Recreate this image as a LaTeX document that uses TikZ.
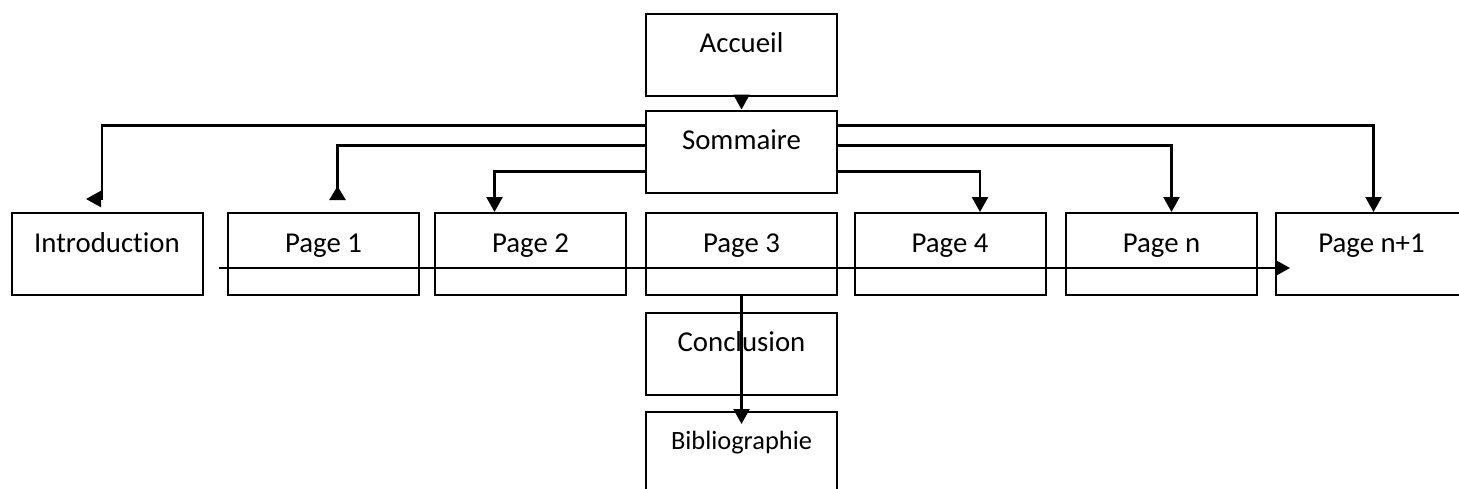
\documentclass[tikz,border=0pt]{standalone}
\usepackage{fontspec}
\setmainfont{Carlito}[Ligatures=NoCommon]
\usetikzlibrary{arrows.meta}
\tikzset{
  page/.style={draw, line width=1pt, minimum width=95.5pt, inner sep=0pt,
    text height=19.5pt, text depth=21.5pt, font=\fontsize{14.4pt}{17pt}\selectfont},
  link/.style={line width=1.2pt, -{Triangle[length=7.5pt,width=8pt]}},
  backlink/.style={line width=1.2pt, -{Triangle[reversed,length=7pt,width=8pt]}}
}
\begin{document}
\begin{tikzpicture}[x=0.5pt, y=-0.5pt]
    \useasboundingbox (0,0) rectangle (1459,488);
    % Nodes
    \node[page] (Accueil) at (741.5,54.5) {Accueil};
    \node[page] (Sommaire) at (741.5,151.5) {Sommaire};
    \node[page] (Intro) at (107,254) {Introduction};
    \node[page] (PageOne) at (323.5,254) {Page 1};
    \node[page] (PageTwo) at (530.5,254) {Page 2};
    \node[page] (PageThree) at (741.5,254) {Page 3};
    \node[page] (PageFour) at (950,254) {Page 4};
    \node[page] (PageN) at (1161.5,254) {Page n};
    \node[page] (PageNPlus) at (1371.5,254) {Page n+1};
    \node[page] (Conclusion) at (741.5,353.5) {Conclusion};
    \node[page, text height=18.5pt, text depth=22.5pt,
      font=\fontsize{13.2pt}{16pt}\selectfont] (Biblio) at (741.5,453) {Bibliographie};

    % Arrows
    \draw[link] (Accueil) -- (Sommaire);
    \draw[link] ([yshift=-8pt]Sommaire.north west) -| ([shift={(-2.5pt,6.5pt)}]Intro.north) -- ++(-16,0);
    \draw[backlink] ([yshift=-18pt]Sommaire.north west) -| ([shift={(7pt,6pt)}]PageOne.north);
    \draw[link] ([yshift=-31pt]Sommaire.north west) -| ([xshift=-18pt]PageTwo.north);
    \draw[link] ([yshift=-31pt]Sommaire.north east) -| ([xshift=15pt]PageFour.north);
    \draw[link] ([yshift=-18pt]Sommaire.north east) -| ([xshift=5pt]PageN.north);
    \draw[link] ([yshift=-8pt]Sommaire.north east) -| ([xshift=1pt]PageNPlus.north);
    \draw[link] ([shift={(7.5pt,-7pt)}]Intro.east) -- ([shift={(7.5pt,-7pt)}]PageNPlus.west);
    \draw[link] (PageThree.south) -- ([yshift=-6.5pt]Biblio.north);
\end{tikzpicture}
\end{document}
